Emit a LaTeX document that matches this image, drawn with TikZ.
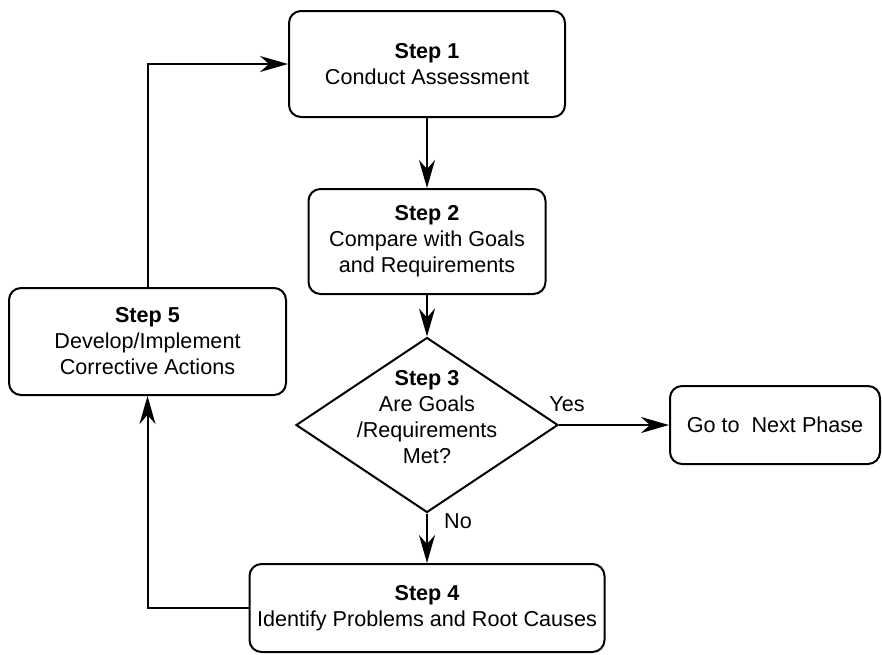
\documentclass[tikz,border=0pt]{standalone}
\usepackage{fontspec}
\setmainfont{Liberation Sans}
\usetikzlibrary{shapes.geometric,arrows.meta}
\begin{document}
\begin{tikzpicture}[x=0.5pt,y=-0.5pt,line width=1pt,
		font=\fontsize{10.8}{13}\selectfont,
		stepbox/.style={draw,rounded corners=6pt,align=center,inner sep=0pt},
		decision/.style={draw,diamond,inner sep=0pt,minimum width=131pt,minimum height=87.5pt},
		flow/.style={-{Stealth[length=14pt,width=8pt,inset=4.5pt]}}]
		\useasboundingbox (0,0) rectangle (882,654);
		\node[stepbox,minimum width=138pt,minimum height=53pt] (s1) at (427,64) {\textbf{Step 1}\\Conduct Assessment};
		\node[stepbox,minimum width=118.5pt,minimum height=52.5pt] (s2) at (427,241.5) {\textbf{Step 2}\\Compare with Goals\\and Requirements};
		\node[decision] (s3) at (427,425) {};
		\node[align=center,inner sep=0pt] (s3txt) at (427,417) {\textbf{Step 3}\\Are Goals\\/Requirements\\Met?};
		\node[stepbox,minimum width=105pt,minimum height=39pt] (next) at (775,425) {Go to\ \ Next Phase};
		\node[stepbox,minimum width=177.5pt,minimum height=44pt] (s4) at (427,608) {\textbf{Step 4}\\Identify Problems and Root Causes};
		\node[stepbox,minimum width=138.5pt,minimum height=53.5pt] (s5) at (147.5,341.5) {\textbf{Step 5}\\Develop/Implement\\Corrective Actions};
		\node (yes) at (567,404) {Yes}; \node (no) at (458,521) {No};
		% main flow
		\draw[flow] (s1.south) -- (s2.north);
		\draw[flow] (s2.south) -- (s3.north);
		\draw[flow] (s3.east) -- (next.west);
		\draw[flow] (s3.south) -- (s4.north);
		% back loop
		\draw[flow] (s4.west) -| (s5.south);
		\draw[flow] (s5.north) |- (s1.west);
	\end{tikzpicture}
\end{document}
